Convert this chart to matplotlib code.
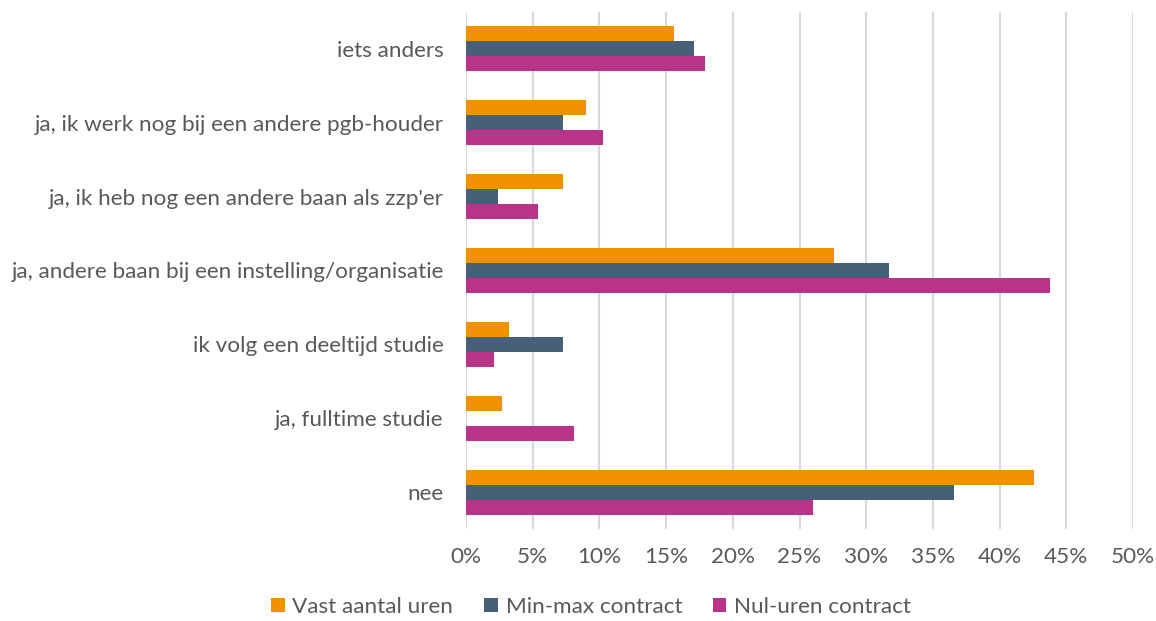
import matplotlib
matplotlib.use("Agg")
import matplotlib.pyplot as plt
import numpy as np
from matplotlib.ticker import MultipleLocator, FuncFormatter

categories = [
    "iets anders",
    "ja, ik werk nog bij een andere pgb-houder",
    "ja, ik heb nog een andere baan als zzp'er",
    "ja, andere baan bij een instelling/organisatie",
    "ik volg een deeltijd studie",
    "ja, fulltime studie",
    "nee",
]
series_names = ["Vast aantal uren", "Min-max contract", "Nul-uren contract"]
vast = [15.6, 9.0, 7.25, 27.6, 3.2, 2.7, 42.6]
minmax = [17.1, 7.3, 2.4, 31.7, 7.3, 0.0, 36.6]
nuluren = [17.9, 10.3, 5.4, 43.8, 2.1, 8.1, 26.0]
colors = ["#F29100", "#475F77", "#B93388"]

plt.rcParams['font.family'] = ['Lato', 'DejaVu Sans']
text_color = "#595959"

fig = plt.figure(figsize=(11.56, 6.21), dpi=100)
ax = fig.add_axes([466/1156, 1 - 529/621, (1133-466)/1156, (529-12)/621])

n = len(categories)
y = np.arange(n)
h = 0.203
for i, (vals, c, name) in enumerate(zip([vast, minmax, nuluren], colors, series_names)):
    ax.barh(y + (i - 1) * h, vals, height=h, color=c, label=name, zorder=3)

ax.set_ylim(n - 0.5, -0.5)
ax.set_xlim(0, 50)
ax.set_yticks(y)
ax.set_yticklabels(categories)
ax.xaxis.set_major_locator(MultipleLocator(5))
ax.xaxis.set_major_formatter(FuncFormatter(lambda v, p: f"{int(round(v))}%"))
ax.grid(axis='x', color="#D9D9D9", linewidth=1.5, zorder=0)
for s in ax.spines.values():
    s.set_visible(False)
ax.tick_params(axis='both', length=0, labelsize=16.2, colors=text_color)
ax.tick_params(axis='y', pad=16)
ax.tick_params(axis='x', pad=13)

handles, labels = ax.get_legend_handles_labels()
leg = fig.legend(handles, labels, loc='center', bbox_to_anchor=(591/1156, 1 - 607/621),
                 ncol=3, frameon=False, fontsize=16.2, handlelength=0.62, handleheight=0.62,
                 handletextpad=0.35, columnspacing=1.35)
for t in leg.get_texts():
    t.set_color(text_color)

fig.savefig("out.png", dpi=100)
